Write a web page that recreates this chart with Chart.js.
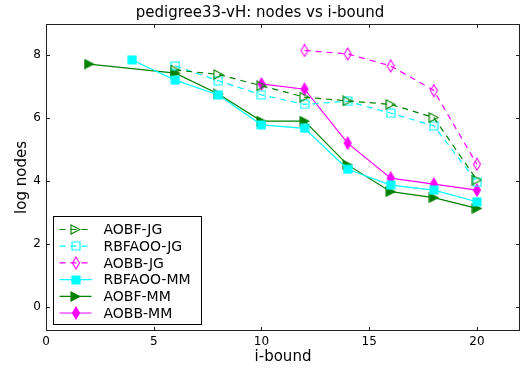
<!DOCTYPE html>
<html>
<head>
<meta charset="utf-8">
<script src="https://cdn.jsdelivr.net/npm/chart.js@4"></script>
<style>
  html, body { margin: 0; padding: 0; background: #fff; }
  #wrap { width: 528px; height: 372px; }
</style>
</head>
<body>
<div id="wrap"><canvas id="c"></canvas></div>
<script>
// i-bound values (x axis)
const iBound = [2, 4, 6, 8, 10, 12, 14, 16, 18, 20];

// log nodes per algorithm (null = no run at that i-bound)
const aobfJG   = [null, null, 7.52, 7.38, 7.02, 6.66, 6.54, 6.43, 6.01, 4.03];
const rbfaooJG = [null, null, 7.65, 7.18, 6.73, 6.43, 6.53, 6.15, 5.75, 3.96];
const aobbJG   = [null, null, null, null, null, 8.14, 8.03, 7.65, 6.87, 4.53];
const rbfaooMM = [null, 7.84, 7.20, 6.73, 5.78, 5.67, 4.37, 3.87, 3.71, 3.34];
const aobfMM   = [7.71, null, 7.42, 6.76, 5.90, 5.90, 4.51, 3.66, 3.47, 3.13];
const aobbMM   = [null, null, null, null, 7.08, 6.91, 5.20, 4.09, 3.90, 3.71];

const xTicks = [0, 5, 10, 15, 20];
const yTicks = [0, 2, 4, 6, 8];

const green = '#008000';
const cyan = '#00ffff';
const magenta = '#ff00ff';
const font = "'DejaVu Sans', sans-serif";

// small canvases used as point markers
function marker(shape, color, filled) {
    const c = document.createElement('canvas');
    let w = 11, h = 11;
    if (shape === 'diamond') { w = 10; h = 14; }
    if (shape === 'square') { w = 10; h = 10; }
    c.width = w; c.height = h;
    const ctx = c.getContext('2d');
    ctx.beginPath();
    if (shape === 'tri') {
        ctx.moveTo(1, 1); ctx.lineTo(w - 1, h / 2); ctx.lineTo(1, h - 1); ctx.closePath();
    } else if (shape === 'square') {
        ctx.rect(1, 1, w - 2, h - 2);
    } else {
        ctx.moveTo(w / 2, 1); ctx.lineTo(w - 1.5, h / 2); ctx.lineTo(w / 2, h - 1); ctx.lineTo(1.5, h / 2); ctx.closePath();
    }
    if (filled) { ctx.fillStyle = color; ctx.fill(); }
    ctx.strokeStyle = color;
    ctx.lineWidth = 1.1;
    ctx.stroke();
    return c;
}

function series(label, values, color, shape, filled) {
    return {
        label,
        data: values.map((v, i) => ({ x: iBound[i], y: v })).filter(p => p.y !== null),
        borderColor: color,
        borderWidth: 1.2,
        borderDash: filled ? [] : [6, 5],
        pointStyle: marker(shape, color, filled),
        pointRadius: 6,
        fill: false,
        tension: 0,
        spanGaps: true
    };
}

const datasets = [
    series('AOBF-JG', aobfJG, green, 'tri', false),
    series('RBFAOO-JG', rbfaooJG, cyan, 'square', false),
    series('AOBB-JG', aobbJG, magenta, 'diamond', false),
    series('RBFAOO-MM', rbfaooMM, cyan, 'square', true),
    series('AOBF-MM', aobfMM, green, 'tri', true),
    series('AOBB-MM', aobbMM, magenta, 'diamond', true)
];

// frame, inward ticks on all sides, and the legend box
const framePlugin = {
    id: 'frame',
    afterDatasetsDraw(chart) {
        const { ctx, chartArea: a, scales } = chart;
        ctx.save();
        ctx.strokeStyle = '#222';
        ctx.lineWidth = 1;
        ctx.strokeRect(a.left + 0.5, a.top + 0.5, a.right - a.left - 1, a.bottom - a.top - 1);
        ctx.beginPath();
        xTicks.forEach(t => {
            const x = Math.round(scales.x.getPixelForValue(t)) + 0.5;
            ctx.moveTo(x, a.bottom); ctx.lineTo(x, a.bottom - 4);
            ctx.moveTo(x, a.top); ctx.lineTo(x, a.top + 4);
        });
        yTicks.forEach(t => {
            const y = Math.round(scales.y.getPixelForValue(t)) + 0.5;
            ctx.moveTo(a.left, y); ctx.lineTo(a.left + 4, y);
            ctx.moveTo(a.right, y); ctx.lineTo(a.right - 4, y);
        });
        ctx.stroke();

        // legend
        const bx = a.left + 7.5, by = 216.5, bw = 148, bh = 108;
        ctx.fillStyle = '#fff';
        ctx.fillRect(bx, by, bw, bh);
        ctx.strokeStyle = '#000';
        ctx.strokeRect(bx, by, bw, bh);
        ctx.font = '14px ' + font;
        ctx.textBaseline = 'middle';
        chart.data.datasets.forEach((ds, i) => {
            const y = 229.5 + i * 16.7;
            ctx.strokeStyle = ds.borderColor;
            ctx.lineWidth = 1.2;
            ctx.setLineDash(ds.borderDash);
            ctx.beginPath();
            ctx.moveTo(bx + 6, y); ctx.lineTo(bx + 38, y);
            ctx.stroke();
            ctx.setLineDash([]);
            const m = ds.pointStyle;
            ctx.drawImage(m, Math.round(bx + 22 - m.width / 2), Math.round(y - m.height / 2));
            ctx.fillStyle = '#000';
            ctx.fillText(ds.label, bx + 50, y + 1);
        });
        ctx.restore();
    }
};

new Chart(document.getElementById('c'), {
    type: 'line',
    data: { datasets },
    plugins: [framePlugin],
    options: {
        responsive: true,
        maintainAspectRatio: false,
        animation: false,
        layout: { padding: { left: 0, right: 8, top: 0, bottom: 0 } },
        plugins: {
            legend: { display: false },
            tooltip: { enabled: false },
            title: {
                display: true,
                text: 'pedigree33-vH: nodes vs i-bound',
                color: '#000',
                font: { family: font, size: 15, weight: 'normal' },
                padding: { top: 4, bottom: 2 }
            }
        },
        scales: {
            x: {
                type: 'linear',
                min: 0,
                max: 22,
                grid: { display: false, drawTicks: false },
                border: { display: false },
                afterBuildTicks: s => { s.ticks = xTicks.map(v => ({ value: v })); },
                afterFit: s => { s.height = 41; },
                ticks: { color: '#000', font: { family: font, size: 12 }, padding: 4, maxRotation: 0 },
                title: { display: true, text: 'i-bound', color: '#000', font: { family: font, size: 15 }, padding: { top: 0, bottom: 6 } }
            },
            y: {
                type: 'linear',
                min: -0.76,
                max: 8.98,
                grid: { display: false, drawTicks: false },
                border: { display: false },
                afterBuildTicks: s => { s.ticks = yTicks.map(v => ({ value: v })); },
                afterFit: s => { s.width = 46; },
                ticks: { color: '#000', font: { family: font, size: 12 }, padding: 5 },
                title: { display: true, text: 'log nodes', color: '#000', font: { family: font, size: 15 }, padding: { top: 13, bottom: 0 } }
            }
        }
    }
});
</script>
</body>
</html>
